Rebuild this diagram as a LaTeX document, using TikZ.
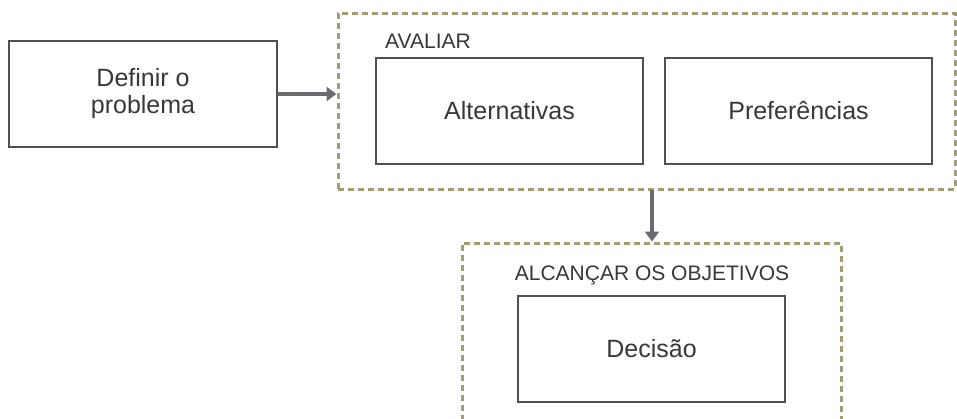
\documentclass[tikz,border=0pt]{standalone}
\usepackage{fontspec}
\setmainfont{Liberation Sans}
\usetikzlibrary{arrows.meta}
\definecolor{boxline}{HTML}{505050}
\definecolor{txt}{HTML}{383838}
\definecolor{olive}{HTML}{A29E74}
\definecolor{arrowgray}{HTML}{6B6B70}
\tikzset{
  stepbox/.style={draw=boxline, line width=1.2pt, fill=white, text=txt,
    font=\fontsize{25}{27}\selectfont, align=center, inner sep=0pt},
  group/.style={draw=olive, line width=3pt, dash pattern=on 6pt off 4pt},
  grouplabel/.style={text=txt, font=\fontsize{21}{24}\selectfont, inner sep=0pt},
  flow/.style={draw=arrowgray, line width=3.5pt,
    -{Triangle[length=10pt,width=14pt]}},
}
\begin{document}
\begin{tikzpicture}[x=1pt,y=-1pt]
  \useasboundingbox (0,0) rectangle (957,418);
  \clip (0,0) rectangle (957,418);
  \fill[white] (0,0) rectangle (957,418);

  % group frames
  \node[group, minimum width=617pt, minimum height=176pt, inner sep=0pt] (eval) at (646.5,101) {};
  \node[group, minimum width=379pt, minimum height=200pt, inner sep=0pt] (goal) at (651.5,343) {};

  % group titles
  \node[grouplabel, anchor=west] (evaltitle) at (385,41) {AVALIAR};
  \node[grouplabel] (goaltitle) at (652,275) {ALCANÇAR OS OBJETIVOS};

  % steps
  \node[stepbox, minimum width=268pt, minimum height=106pt] (def) at (143,94) {Definir o\\problema};
  \node[stepbox, minimum width=267pt, minimum height=106pt] (alt) at (509.5,111) {Alternativas};
  \node[stepbox, minimum width=267pt, minimum height=106pt] (pref) at (798.5,111) {Preferências};
  \node[stepbox, minimum width=267pt, minimum height=106pt] (dec) at (651.5,349) {Decisão};

  % flow between stages
  \draw[flow] (def.east) -- (def.east -| eval.west);
  \coordinate (down) at (652,190);
  \draw[flow] (down) -- (down |- goal.north);
\end{tikzpicture}
\end{document}
